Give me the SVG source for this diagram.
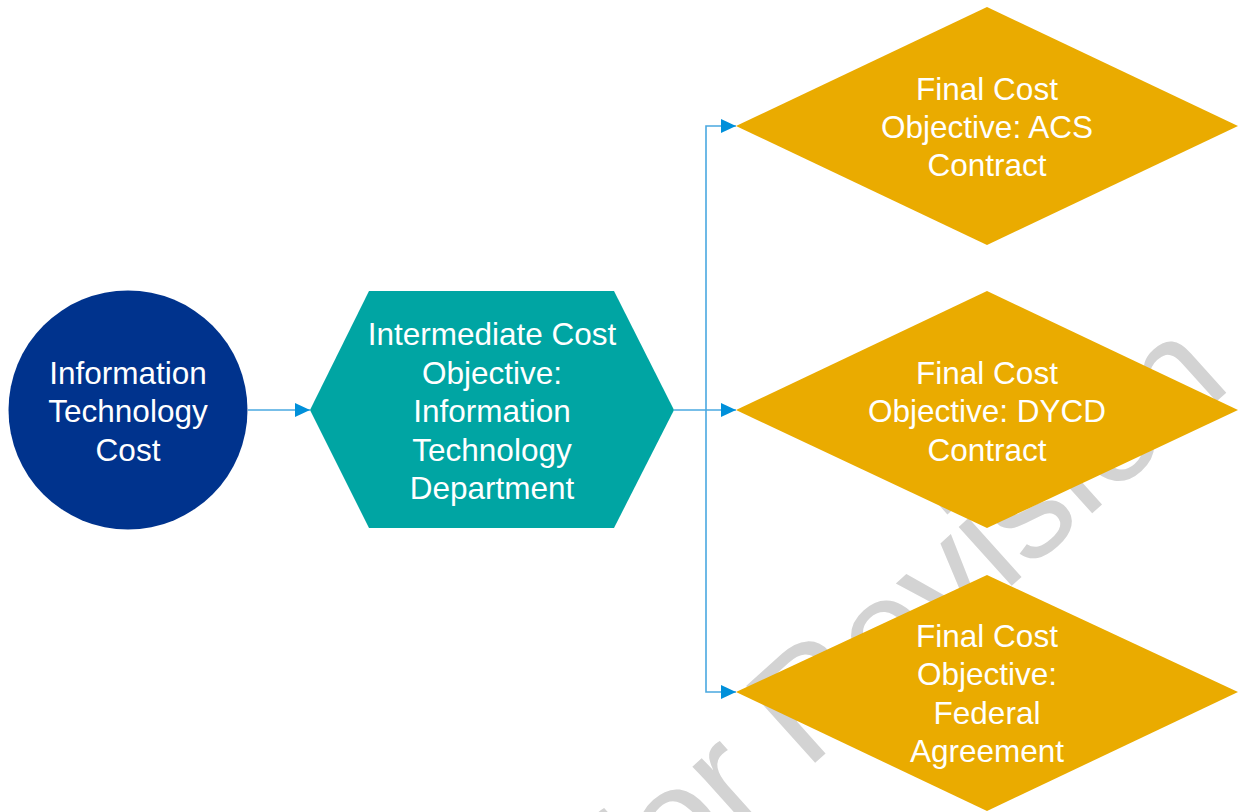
<svg xmlns="http://www.w3.org/2000/svg" width="1239" height="812" viewBox="0 0 1239 812">
<style>
.lbl{font-family:"Liberation Sans",Arial,sans-serif;font-size:31.5px;fill:#ffffff;text-anchor:middle}
.wm{font-family:"Liberation Sans",Arial,sans-serif;font-size:150px;fill:#d3d3d3}
.con{fill:none;stroke:#4aa8e0;stroke-width:1.6}
.dia{fill:#eaab00}
</style>
<defs>
<marker id="arr" markerUnits="userSpaceOnUse" markerWidth="16" markerHeight="16" refX="15" refY="8" orient="auto">
<path d="M0,1 L15,8 L0,15 Z" fill="#0090da"/>
</marker>
</defs>
<rect width="1239" height="812" fill="#ffffff"/>
<text class="wm" transform="translate(645,916) rotate(-42)">for Revision</text>
<g id="connectors">
<path class="con" d="M248,410 H310" marker-end="url(#arr)"/>
<path class="con" d="M674,410 H736" marker-end="url(#arr)"/>
<path class="con" d="M706,410 V126 H736" marker-end="url(#arr)"/>
<path class="con" d="M706,410 V692 H736" marker-end="url(#arr)"/>
</g>
<g id="it-cost">
<circle cx="128" cy="410" r="119.5" fill="#00338d"/>
<text class="lbl"><tspan x="128" y="384">Information</tspan><tspan x="128" y="422">Technology</tspan><tspan x="128" y="461">Cost</tspan></text>
</g>
<g id="intermediate">
<polygon points="310,410 369,291 614,291 674,410 614,528 369,528" fill="#00a5a3"/>
<text class="lbl"><tspan x="492" y="345">Intermediate Cost</tspan><tspan x="492" y="384">Objective:</tspan><tspan x="492" y="422">Information</tspan><tspan x="492" y="461">Technology</tspan><tspan x="492" y="499">Department</tspan></text>
</g>
<g id="acs">
<polygon class="dia" points="736,126 987,7 1238,126 987,245"/>
<text class="lbl"><tspan x="987" y="100">Final Cost</tspan><tspan x="987" y="138">Objective: ACS</tspan><tspan x="987" y="176">Contract</tspan></text>
</g>
<g id="dycd">
<polygon class="dia" points="736,410 987,291 1238,410 987,528"/>
<text class="lbl"><tspan x="987" y="384">Final Cost</tspan><tspan x="987" y="422">Objective: DYCD</tspan><tspan x="987" y="461">Contract</tspan></text>
</g>
<g id="federal">
<polygon class="dia" points="736,692 987,575 1238,692 987,811"/>
<text class="lbl"><tspan x="987" y="647">Final Cost</tspan><tspan x="987" y="685">Objective:</tspan><tspan x="987" y="724">Federal</tspan><tspan x="987" y="762">Agreement</tspan></text>
</g>
</svg>
